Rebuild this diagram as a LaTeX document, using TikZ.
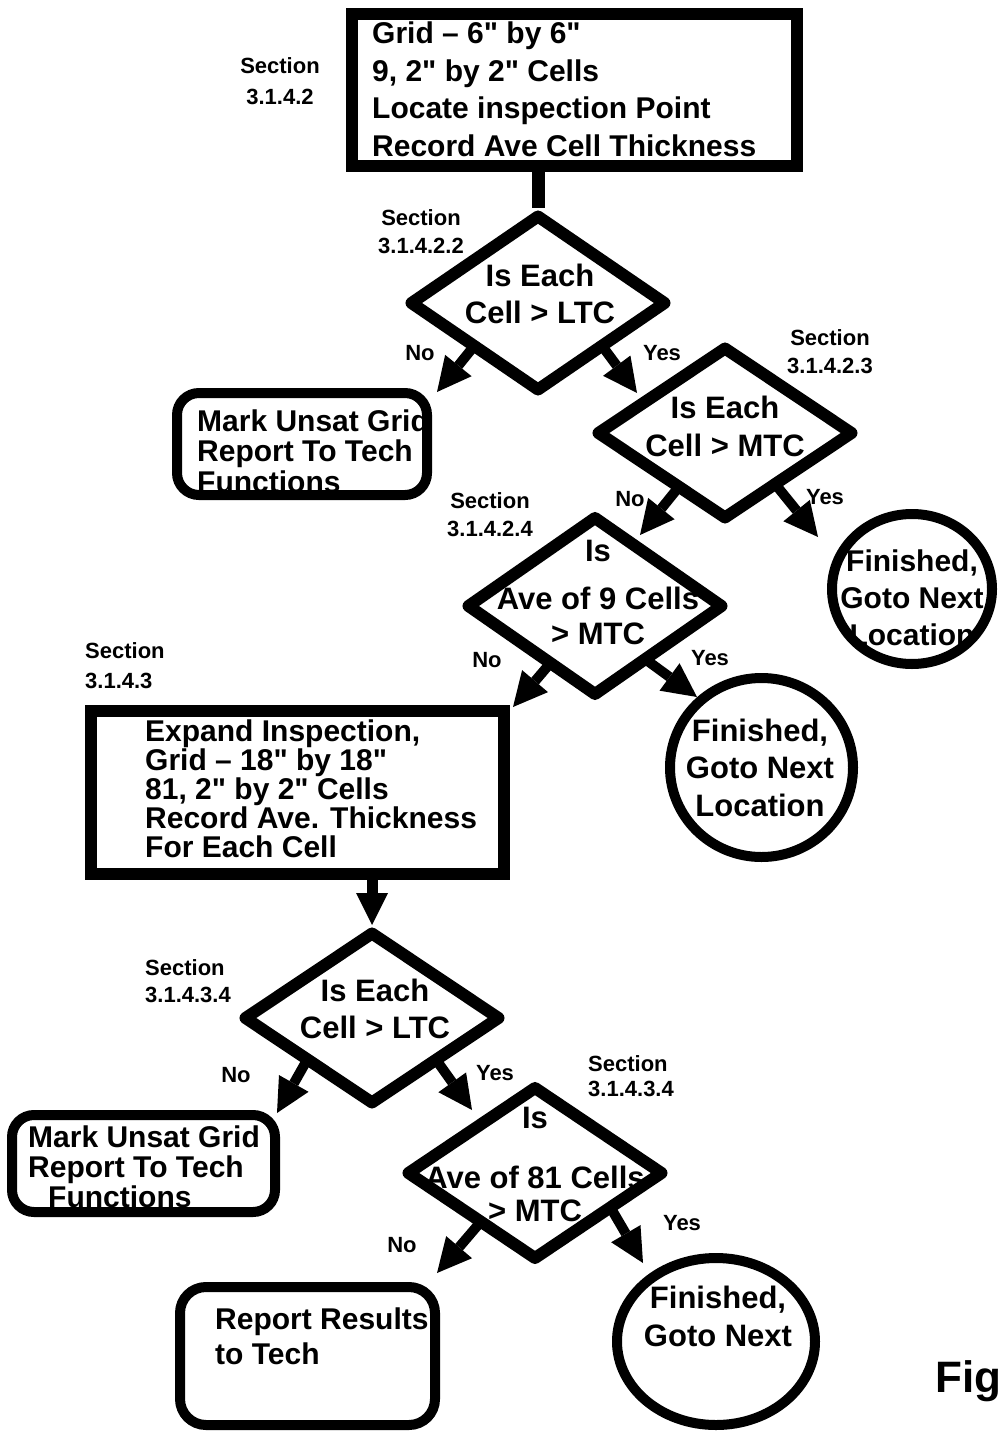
\documentclass[tikz,border=0pt]{standalone}
\usepackage{fontspec}
\setmainfont{Liberation Sans}[Ligatures=TeXOff]
\usetikzlibrary{shapes.geometric,arrows.meta,calc}
\newcommand\setfs[2]{\fontsize{#1}{#2}\selectfont}
\begin{document}
\begin{tikzpicture}[x=1pt,y=-1pt,
  sq/.style={draw, rectangle, line width=12pt, inner sep=0pt},
  rbox/.style={draw, rectangle, line width=10pt, rounded corners=22pt, inner sep=0pt},
  dia/.style={draw, diamond, line width=12pt, line join=round, inner sep=0pt, minimum width=258pt},
  ell/.style={draw, ellipse, line width=10pt, inner sep=0pt},
  ltxt/.style={inner sep=0pt, anchor=base west, align=left},
  ctxt/.style={inner sep=0pt, anchor=base, align=center},
  sec/.style={inner sep=0pt, anchor=base, align=center, font=\bfseries\setfs{22}{28}},
  secl/.style={inner sep=0pt, anchor=base west, align=left, font=\bfseries\setfs{22}{28}},
  yn/.style={inner sep=0pt, font=\bfseries\setfs{22}{26}},
  arr/.style={line width=10pt, shorten <=-5pt, -{Triangle[length=34pt,width=34pt,line width=0pt]}},
  varr/.style={line width=11pt, -{Triangle[length=32pt,width=32pt,line width=0pt]}}]
\fill[white] (0,0) rectangle (1004,1434);
\useasboundingbox (0,0) rectangle (1004,1434);

% shapes
\node[sq, minimum width=445pt, minimum height=152pt] (b1) at (574.5,90) {};
\node[dia, minimum height=178pt] (d1) at (538,303) {};
\node[rbox, minimum width=250pt, minimum height=102pt] (mu1) at (302,444) {};
\node[dia, minimum height=174pt] (d2) at (725,433) {};
\node[ell, minimum width=160pt, minimum height=150pt] (c1) at (912,589) {};
\node[dia, minimum height=181pt] (d3) at (595,606) {};
\node[ell, minimum width=183pt, minimum height=179pt] (c2) at (761.5,767.5) {};
\node[sq, minimum width=413pt, minimum height=163pt] (ex) at (297.5,792.5) {};
\node[dia, minimum height=174pt] (d4) at (372,1018) {};
\node[rbox, minimum width=263pt, minimum height=97pt] (mu2) at (143.5,1163.5) {};
\node[dia, minimum height=175pt] (d5) at (535,1173) {};
\node[rbox, rounded corners=26pt, minimum width=255pt, minimum height=138pt] (rr) at (307.5,1356) {};
\node[ell, minimum width=198pt, minimum height=167pt] (c3) at (716,1341.5) {};

% arrow tips
\coordinate (t1) at (437,392);
\coordinate (t2) at (637,393);
\coordinate (t3) at (640,535);
\coordinate (t4) at (818,537);
\coordinate (t5) at (513,707);
\coordinate (t6) at (697,697);
\coordinate (t7) at (277,1113);
\coordinate (t8) at (472,1110);
\coordinate (t9) at (437,1273);
\coordinate (t10) at (643,1263);

% connectors
\draw[line width=13pt] (d1.north |- b1.south) -- (d1.north);
\draw[arr] ($(d1.west)!0.5!(d1.south)$) -- (t1);
\draw[arr] ($(d1.east)!0.5!(d1.south)$) -- (t2);
\draw[arr] ($(d2.west)!0.63!(d2.south)$) -- (t3);
\draw[arr] ($(d2.east)!0.6!(d2.south)$) -- (t4);
\draw[arr] ($(d3.west)!0.64!(d3.south)$) -- (t5);
\draw[arr] ($(d3.east)!0.59!(d3.south)$) -- (t6);
\draw[varr] (d4.north |- ex.south) -- (d4.north);
\draw[arr] ($(d4.west)!0.5!(d4.south)$) -- (t7);
\draw[arr] ($(d4.east)!0.5!(d4.south)$) -- (t8);
\draw[arr] ($(d5.west)!0.57!(d5.south)$) -- (t9);
\draw[arr] ($(d5.east)!0.42!(d5.south)$) -- (t10);

% texts (anchor = baseline of last line)
\node[ltxt, font=\bfseries\setfs{30}{37.5}] (b1t) at (372,156.5) {Grid – 6" by 6"\\9, 2" by 2" Cells\\Locate inspection Point\\Record Ave Cell Thickness};
\node[ctxt, font=\bfseries\setfs{31}{37}] (d1t) at (540,323) {Is Each\\Cell > LTC};
\node[ltxt, font=\bfseries\setfs{30}{30.5}] (mu1t) at (197,492) {Mark Unsat Grid\\Report To Tech\\Functions};
\node[ctxt, font=\bfseries\setfs{31}{38}] (d2t) at (725,456) {Is Each\\Cell > MTC};
\node[ctxt, font=\bfseries\setfs{30}{37}] (c1t) at (912,645) {Finished,\\Goto Next\\Location};
\node[ctxt, font=\bfseries\setfs{31}{35}] (d3t) at (598,644) {Is\\[13pt]Ave of 9 Cells\\> MTC};
\node[ctxt, font=\bfseries\setfs{31}{37.5}] (c2t) at (760,816) {Finished,\\Goto Next\\Location};
\node[ltxt, font=\bfseries\setfs{30}{29}] (ext) at (145,857) {Expand Inspection,\\Grid – 18" by 18"\\81, 2" by 2" Cells\\Record Ave. Thickness\\For Each Cell};
\node[ctxt, font=\bfseries\setfs{31}{37}] (d4t) at (375,1038) {Is Each\\Cell > LTC};
\node[ltxt, font=\bfseries\setfs{30}{30}] (mu2t) at (28,1207) {Mark Unsat Grid\\Report To Tech\\\hspace*{20pt}Functions};
\node[ctxt, font=\bfseries\setfs{31}{33}] (d5t) at (535,1221) {Is\\[27pt]Ave of 81 Cells\\> MTC};
\node[ltxt, font=\bfseries\setfs{30}{35}] (rrt) at (215,1364) {Report Results\\to Tech};
\node[ctxt, font=\bfseries\setfs{31}{38}] (c3t) at (718,1346) {Finished,\\Goto Next};

% section labels
\node[sec, font=\bfseries\setfs{22}{31}] (s1) at (280,105) {Section\\3.1.4.2};
\node[sec] (s2) at (421,253) {Section\\3.1.4.2.2};
\node[sec] (s3) at (830,373) {Section\\3.1.4.2.3};
\node[sec] (s4) at (490,536) {Section\\3.1.4.2.4};
\node[secl, font=\bfseries\setfs{22}{30}] (s5) at (85,688) {Section\\3.1.4.3};
\node[secl, font=\bfseries\setfs{22}{27}] (s6) at (145,1002) {Section\\3.1.4.3.4};
\node[secl, font=\bfseries\setfs{22}{25}] (s7) at (588,1096) {Section\\3.1.4.3.4};

% yes / no labels
\node[yn] (n1) at (420,353) {No};
\node[yn] (y1) at (662,353) {Yes};
\node[yn] (n2) at (630,499) {No};
\node[yn] (y2) at (825,497) {Yes};
\node[yn] (n3) at (487,660) {No};
\node[yn] (y3) at (710,658) {Yes};
\node[yn] (n4) at (236,1075) {No};
\node[yn] (y4) at (495,1073) {Yes};
\node[yn] (n5) at (402,1245) {No};
\node[yn] (y5) at (682,1223) {Yes};

% figure caption
\node[ltxt, font=\bfseries\setfs{44}{48}] (fig) at (935,1392) {Fig};
\end{tikzpicture}
\end{document}
